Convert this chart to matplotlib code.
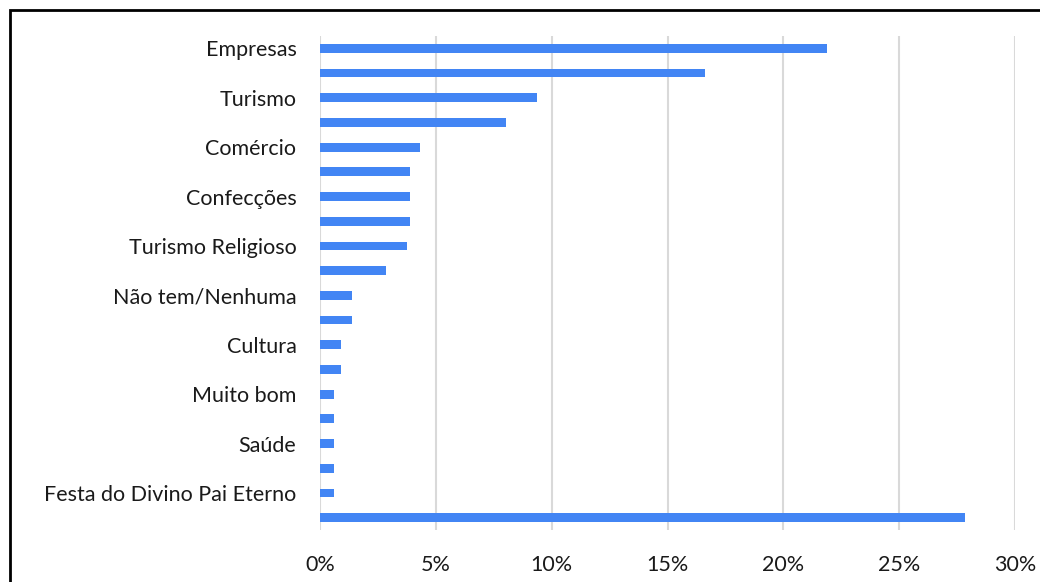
import matplotlib
matplotlib.use("Agg")
import matplotlib.pyplot as plt
from matplotlib.ticker import PercentFormatter
from matplotlib.patches import Rectangle

# categories from top to bottom; every other label is hidden in the original
categories = ["Empresas", "", "Turismo", "", "Comércio", "", "Confecções", "",
              "Turismo Religioso", "", "Não tem/Nenhuma", "", "Cultura", "",
              "Muito bom", "", "Saúde", "", "Festa do Divino Pai Eterno", ""]
values = [21.9, 16.6, 9.35, 8.05, 4.3, 3.9, 3.9, 3.9, 3.75, 2.85,
          1.4, 1.4, 0.9, 0.9, 0.62, 0.62, 0.62, 0.62, 0.62, 27.85]
xticks = [0, 5, 10, 15, 20, 25, 30]

plt.rcParams['font.family'] = ['Lato', 'DejaVu Sans']

fig = plt.figure(figsize=(10.4, 5.82), dpi=100)
ax = fig.add_axes([320 / 1040, 1 - 530 / 582, 695 / 1040, 494 / 582])

pos = list(range(len(categories)))
ax.barh(pos, values, height=0.36, color="#4285F4")
ax.set_ylim(len(categories) - 0.5, -0.5)
ax.set_xlim(0, 30)
ax.set_yticks(pos)
ax.set_yticklabels(categories, fontsize=15.5, color="#1a1a1a")
ax.set_xticks(xticks)
ax.xaxis.set_major_formatter(PercentFormatter(decimals=0))
ax.tick_params(axis="x", labelsize=15.5, colors="#1a1a1a", length=0, pad=18)
ax.tick_params(axis="y", length=0, pad=17)

ax.grid(axis="x", color="#d9d9d9", linewidth=1.5)
ax.set_axisbelow(True)
for s in ax.spines.values():
    s.set_visible(False)

# outer chart border (cut off at right and bottom in the original)
fig.patches.append(Rectangle((10 / 1040, -0.1), 1.2, 1 - 10 / 582 + 0.1,
                             transform=fig.transFigure, fill=False,
                             edgecolor="black", linewidth=2))

fig.savefig("out.png", dpi=100)
